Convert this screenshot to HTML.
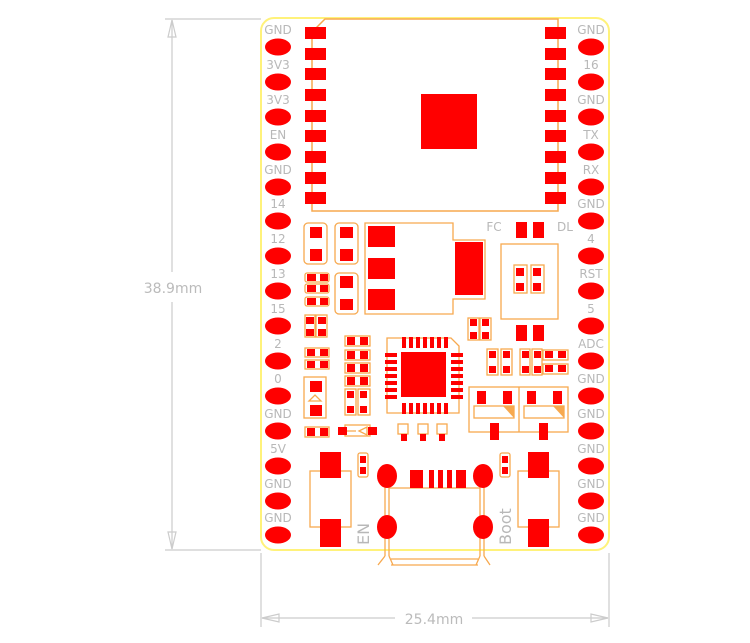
<!DOCTYPE html>
<html><head><meta charset="utf-8"><style>
html,body{margin:0;padding:0;background:#fff;}
svg{display:block;}
text{font-family:"DejaVu Sans","Liberation Sans",sans-serif;}
</style></head><body>
<svg width="750" height="643" viewBox="0 0 750 643" xmlns="http://www.w3.org/2000/svg">
<!-- dimensions -->
<g stroke="#ccc" stroke-width="1.2" fill="none">
<line x1="165" y1="19" x2="261" y2="19"/>
<line x1="165" y1="550" x2="261" y2="550"/>
<line x1="172" y1="20" x2="172" y2="272"/>
<line x1="172" y1="302" x2="172" y2="549"/>
<path d="M172 20 L168 37 L176 37 Z"/>
<path d="M172 549 L168 532 L176 532 Z"/>
<line x1="261" y1="553" x2="261" y2="627"/>
<line x1="609" y1="553" x2="609" y2="627"/>
<line x1="262" y1="618" x2="395" y2="618"/>
<line x1="472" y1="618" x2="608" y2="618"/>
<path d="M262 618 L279 614 L279 622 Z"/>
<path d="M608 618 L591 614 L591 622 Z"/>
</g>
<text x="173" y="293" font-size="14" fill="#bbb" text-anchor="middle">38.9mm</text>
<text x="434" y="624" font-size="14" fill="#bbb" text-anchor="middle">25.4mm</text>
<!-- board -->
<rect x="261" y="18" width="348" height="532" rx="13" fill="none" stroke="#fff27a" stroke-width="2"/>
<!-- pins -->
<g fill="#ff0000">
<ellipse cx="278" cy="47" rx="13" ry="8.5"/><ellipse cx="591" cy="47" rx="13" ry="8.5"/>
<ellipse cx="278" cy="82" rx="13" ry="8.5"/><ellipse cx="591" cy="82" rx="13" ry="8.5"/>
<ellipse cx="278" cy="117" rx="13" ry="8.5"/><ellipse cx="591" cy="117" rx="13" ry="8.5"/>
<ellipse cx="278" cy="152" rx="13" ry="8.5"/><ellipse cx="591" cy="152" rx="13" ry="8.5"/>
<ellipse cx="278" cy="187" rx="13" ry="8.5"/><ellipse cx="591" cy="187" rx="13" ry="8.5"/>
<ellipse cx="278" cy="221" rx="13" ry="8.5"/><ellipse cx="591" cy="221" rx="13" ry="8.5"/>
<ellipse cx="278" cy="256" rx="13" ry="8.5"/><ellipse cx="591" cy="256" rx="13" ry="8.5"/>
<ellipse cx="278" cy="291" rx="13" ry="8.5"/><ellipse cx="591" cy="291" rx="13" ry="8.5"/>
<ellipse cx="278" cy="326" rx="13" ry="8.5"/><ellipse cx="591" cy="326" rx="13" ry="8.5"/>
<ellipse cx="278" cy="361" rx="13" ry="8.5"/><ellipse cx="591" cy="361" rx="13" ry="8.5"/>
<ellipse cx="278" cy="396" rx="13" ry="8.5"/><ellipse cx="591" cy="396" rx="13" ry="8.5"/>
<ellipse cx="278" cy="431" rx="13" ry="8.5"/><ellipse cx="591" cy="431" rx="13" ry="8.5"/>
<ellipse cx="278" cy="466" rx="13" ry="8.5"/><ellipse cx="591" cy="466" rx="13" ry="8.5"/>
<ellipse cx="278" cy="501" rx="13" ry="8.5"/><ellipse cx="591" cy="501" rx="13" ry="8.5"/>
<ellipse cx="278" cy="535" rx="13" ry="8.5"/><ellipse cx="591" cy="535" rx="13" ry="8.5"/>
</g>
<g font-size="12" fill="#b8b8b8" text-anchor="middle">
<text x="278" y="34">GND</text><text x="591" y="34">GND</text>
<text x="278" y="69">3V3</text><text x="591" y="69">16</text>
<text x="278" y="104">3V3</text><text x="591" y="104">GND</text>
<text x="278" y="139">EN</text><text x="591" y="139">TX</text>
<text x="278" y="174">GND</text><text x="591" y="174">RX</text>
<text x="278" y="208">14</text><text x="591" y="208">GND</text>
<text x="278" y="243">12</text><text x="591" y="243">4</text>
<text x="278" y="278">13</text><text x="591" y="278">RST</text>
<text x="278" y="313">15</text><text x="591" y="313">5</text>
<text x="278" y="348">2</text><text x="591" y="348">ADC</text>
<text x="278" y="383">0</text><text x="591" y="383">GND</text>
<text x="278" y="418">GND</text><text x="591" y="418">GND</text>
<text x="278" y="453">5V</text><text x="591" y="453">GND</text>
<text x="278" y="488">GND</text><text x="591" y="488">GND</text>
<text x="278" y="522">GND</text><text x="591" y="522">GND</text>
<text x="494" y="231">FC</text><text x="565" y="231">DL</text>
</g>
<!-- module -->
<path d="M325 19 L558 19 L558 211 L312 211 L312 32 Z" fill="none" stroke="#f7a94f" stroke-width="1.5"/>
<g fill="#ff0000">
<rect x="305" y="27" width="21" height="12"/><rect x="305" y="48" width="21" height="12"/><rect x="305" y="68" width="21" height="12"/>
<rect x="305" y="89" width="21" height="12"/><rect x="305" y="110" width="21" height="12"/><rect x="305" y="130" width="21" height="12"/>
<rect x="305" y="151" width="21" height="12"/><rect x="305" y="172" width="21" height="12"/><rect x="305" y="192" width="21" height="12"/>
<rect x="545" y="27" width="21" height="12"/><rect x="545" y="48" width="21" height="12"/><rect x="545" y="68" width="21" height="12"/>
<rect x="545" y="89" width="21" height="12"/><rect x="545" y="110" width="21" height="12"/><rect x="545" y="130" width="21" height="12"/>
<rect x="545" y="151" width="21" height="12"/><rect x="545" y="172" width="21" height="12"/><rect x="545" y="192" width="21" height="12"/>
<rect x="421" y="94" width="56" height="55"/>
</g>
<!-- outlines -->
<g fill="none" stroke="#f7a94f" stroke-width="1.3">
<rect x="304" y="223" width="23" height="41" rx="4"/>
<rect x="335" y="223" width="23" height="41" rx="4"/>
<rect x="335" y="273" width="23" height="41" rx="4"/>
<rect x="305" y="273" width="24" height="9" rx="2"/>
<rect x="305" y="284" width="24" height="9" rx="2"/>
<rect x="305" y="297" width="24" height="9" rx="2"/>
<rect x="305" y="315" width="10" height="22"/><rect x="316" y="315" width="11" height="22"/>
<rect x="305" y="348" width="24" height="9"/><rect x="305" y="360" width="24" height="9"/>
<rect x="304" y="377" width="22" height="41"/>
<rect x="305" y="427" width="24" height="10"/>
<path d="M365 223 L453 223 L453 240 L485 240 L485 299 L453 299 L453 314 L365 314 Z"/>
<rect x="501" y="244" width="57" height="75"/>
<rect x="514" y="265" width="13" height="28"/><rect x="531" y="265" width="13" height="28"/>
<rect x="468" y="318" width="11" height="22"/><rect x="480" y="318" width="11" height="22"/>
<rect x="487" y="349" width="11" height="26"/><rect x="501" y="349" width="11" height="26"/>
<rect x="520" y="349" width="10" height="26"/><rect x="532" y="349" width="10" height="26"/>
<rect x="543" y="350" width="25" height="10"/><rect x="543" y="364" width="25" height="10"/>
<rect x="345" y="336" width="25" height="10"/><rect x="345" y="350" width="25" height="10"/>
<rect x="345" y="363" width="25" height="10"/><rect x="345" y="376" width="25" height="10"/>
<rect x="345" y="389" width="11" height="26"/><rect x="358" y="389" width="12" height="26"/>
<path d="M387 338 L451 338 L459 346 L459 413 L387 413 Z"/>
<rect x="345" y="425" width="25" height="11"/>
<rect x="398" y="424" width="10" height="10"/><rect x="418" y="424" width="10" height="10"/><rect x="437" y="424" width="10" height="10"/>
<rect x="469" y="387" width="99" height="45"/><line x1="519" y1="387" x2="519" y2="432"/>
<rect x="474" y="406" width="40" height="12"/><rect x="524" y="406" width="40" height="12"/>
<rect x="310" y="471" width="41" height="56"/><rect x="518" y="471" width="41" height="56"/>
<rect x="358" y="453" width="10" height="24" rx="2"/><rect x="500" y="453" width="10" height="24" rx="2"/>
<path d="M385 487 L385 556 M389 487 L389 556 M480 487 L480 556 M484 487 L484 556 M389 488 L480 488"/>
<path d="M378 565 L385 556 M393 565 L389 556 M490 565 L484 556 M476 565 L480 556 M391 559 L478 559 M391 565 L478 565"/>
<path d="M356 431 L345 431 M359 431 L367 427 L367 435 Z" />
<path d="M309 401 L315 395 L321 401 Z"/>
</g>
<g fill="#f7a94f"><path d="M503 406 L514 406 L514 418 Z"/><path d="M553 406 L564 406 L564 418 Z"/></g>
<!-- red pads -->
<g fill="#ff0000">
<rect x="310" y="227" width="12" height="11"/><rect x="310" y="249" width="12" height="12"/>
<rect x="340" y="227" width="13" height="11"/><rect x="340" y="249" width="13" height="12"/>
<rect x="340" y="276" width="13" height="12"/><rect x="340" y="299" width="13" height="11"/>
<rect x="307" y="274" width="9" height="7"/><rect x="320" y="274" width="8" height="7"/>
<rect x="307" y="285" width="9" height="7"/><rect x="320" y="285" width="8" height="7"/>
<rect x="307" y="298" width="9" height="7"/><rect x="320" y="298" width="8" height="7"/>
<rect x="306" y="317" width="8" height="7"/><rect x="306" y="329" width="8" height="7"/>
<rect x="318" y="317" width="8" height="7"/><rect x="318" y="329" width="8" height="7"/>
<rect x="307" y="349" width="8" height="7"/><rect x="320" y="349" width="8" height="7"/>
<rect x="307" y="361" width="8" height="7"/><rect x="320" y="361" width="8" height="7"/>
<rect x="310" y="381" width="12" height="11"/><rect x="310" y="405" width="12" height="11"/>
<rect x="307" y="428" width="8" height="8"/><rect x="320" y="428" width="8" height="8"/>
<rect x="368" y="226" width="27" height="21"/><rect x="368" y="258" width="27" height="21"/><rect x="368" y="289" width="27" height="21"/>
<rect x="455" y="242" width="28" height="53"/>
<rect x="516" y="222" width="11" height="16"/><rect x="533" y="222" width="11" height="16"/>
<rect x="516" y="325" width="11" height="16"/><rect x="533" y="325" width="11" height="16"/>
<rect x="516" y="268" width="8" height="8"/><rect x="516" y="283" width="8" height="8"/>
<rect x="533" y="268" width="8" height="8"/><rect x="533" y="283" width="8" height="8"/>
<rect x="470" y="319" width="7" height="7"/><rect x="470" y="332" width="7" height="7"/>
<rect x="482" y="319" width="7" height="7"/><rect x="482" y="332" width="7" height="7"/>
<rect x="489" y="351" width="7" height="7"/><rect x="489" y="366" width="7" height="7"/>
<rect x="503" y="351" width="7" height="7"/><rect x="503" y="366" width="7" height="7"/>
<rect x="522" y="351" width="7" height="7"/><rect x="522" y="366" width="7" height="7"/>
<rect x="534" y="351" width="7" height="7"/><rect x="534" y="366" width="7" height="7"/>
<rect x="545" y="351" width="8" height="7"/><rect x="558" y="351" width="8" height="7"/>
<rect x="545" y="365" width="8" height="7"/><rect x="558" y="365" width="8" height="7"/>
<rect x="347" y="337" width="8" height="8"/><rect x="360" y="337" width="8" height="8"/>
<rect x="347" y="351" width="8" height="8"/><rect x="360" y="351" width="8" height="8"/>
<rect x="347" y="364" width="8" height="8"/><rect x="360" y="364" width="8" height="8"/>
<rect x="347" y="377" width="8" height="8"/><rect x="360" y="377" width="8" height="8"/>
<rect x="347" y="391" width="7" height="7"/><rect x="347" y="406" width="7" height="7"/>
<rect x="360" y="391" width="7" height="7"/><rect x="360" y="406" width="7" height="7"/>
<rect x="338" y="427" width="9" height="8"/><rect x="368" y="427" width="9" height="8"/>
<rect x="401" y="434" width="6" height="7"/><rect x="420" y="434" width="6" height="7"/><rect x="439" y="434" width="6" height="7"/>
<rect x="401" y="352" width="45" height="45"/>
<g id="tp"><rect x="402" y="337" width="4" height="11"/><rect x="409" y="337" width="4" height="11"/><rect x="416" y="337" width="4" height="11"/><rect x="423" y="337" width="4" height="11"/><rect x="430" y="337" width="4" height="11"/><rect x="437" y="337" width="4" height="11"/><rect x="444" y="337" width="4" height="11"/></g>
<use href="#tp" y="66"/>
<g id="lp"><rect x="385" y="353" width="12" height="4"/><rect x="385" y="360" width="12" height="4"/><rect x="385" y="367" width="12" height="4"/><rect x="385" y="374" width="12" height="4"/><rect x="385" y="381" width="12" height="4"/><rect x="385" y="388" width="12" height="4"/><rect x="385" y="395" width="12" height="4"/></g>
<use href="#lp" x="66"/>
<rect x="477" y="391" width="9" height="13"/><rect x="503" y="391" width="9" height="13"/>
<rect x="527" y="391" width="9" height="13"/><rect x="553" y="391" width="9" height="13"/>
<rect x="490" y="423" width="9" height="17"/><rect x="539" y="423" width="9" height="17"/>
<rect x="320" y="452" width="21" height="26"/><rect x="320" y="519" width="21" height="28"/>
<rect x="528" y="452" width="21" height="26"/><rect x="528" y="519" width="21" height="28"/>
<rect x="360" y="456" width="6" height="7"/><rect x="360" y="467" width="6" height="7"/>
<rect x="502" y="456" width="6" height="7"/><rect x="502" y="467" width="6" height="7"/>
<ellipse cx="387" cy="476" rx="10" ry="12"/><ellipse cx="483" cy="476" rx="10" ry="12"/>
<ellipse cx="387" cy="527" rx="10" ry="12"/><ellipse cx="483" cy="527" rx="10" ry="12"/>
<rect x="410" y="470" width="13" height="18"/><rect x="429" y="470" width="5" height="18"/><rect x="438" y="470" width="5" height="18"/><rect x="447" y="470" width="5" height="18"/><rect x="456" y="470" width="10" height="18"/>
</g>
<g font-size="16" fill="#b8b8b8">
<text transform="translate(369,545) rotate(-90)">EN</text>
<text transform="translate(511,545) rotate(-90)">Boot</text>
</g>
</svg>
</body></html>
